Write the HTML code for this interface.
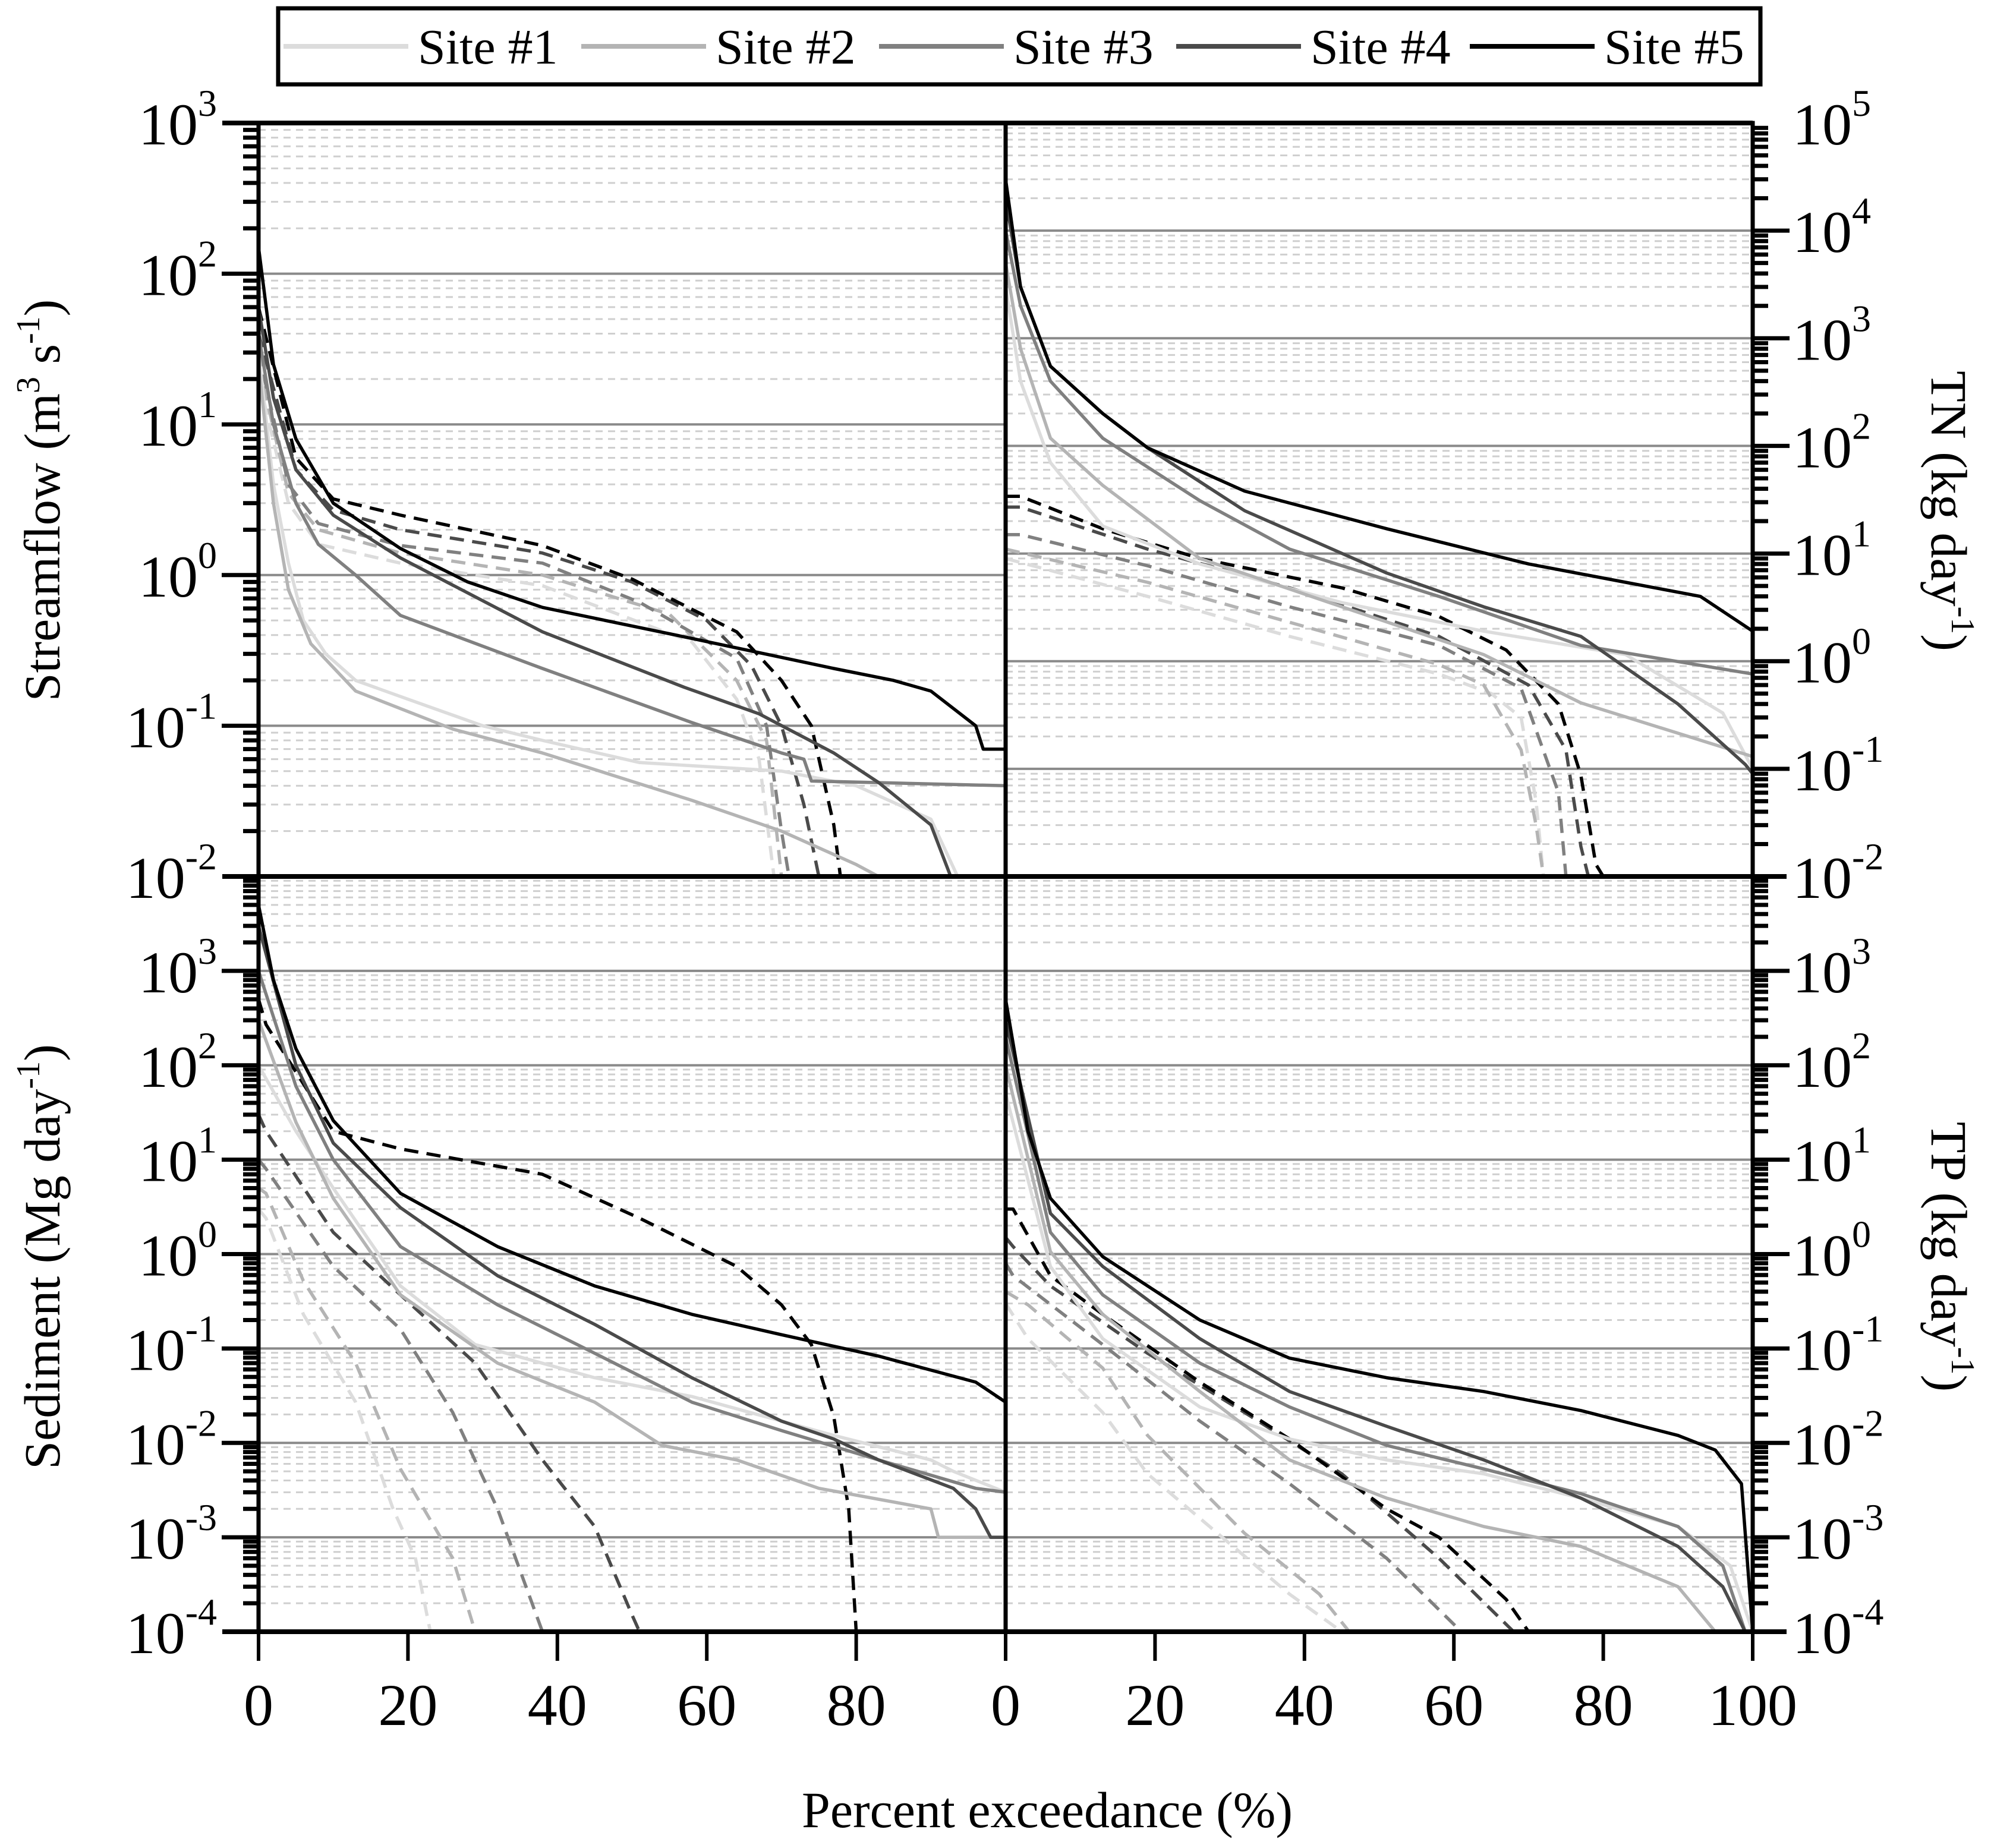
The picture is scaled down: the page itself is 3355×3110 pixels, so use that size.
<!DOCTYPE html>
<html><head><meta charset="utf-8"><style>
html,body{margin:0;padding:0;background:#fff;}
svg{display:block;font-family:"Liberation Serif",serif;}
</style></head><body>
<svg id="chart" width="3355" height="3110" viewBox="0 0 3355 3110" xmlns="http://www.w3.org/2000/svg">
<g id="legend">
<rect x="468" y="14" width="2494" height="128" fill="#fff" stroke="#000" stroke-width="7"/>
</g>
<g id="grid"></g><g id="series"></g><g id="axes"></g><g id="labels"></g>
</svg>
<script>
// ---- categories / tick labels ----
const siteNames = ["Site #1","Site #2","Site #3","Site #4","Site #5"];
const xTickLabels = [0,20,40,60,80,100];
// ---- Streamflow (m3/s) : [percent, value] ----
const flowObs1 = [[0,30],[2,4],[4,1.2],[6,0.5],[9,0.3],[13,0.2],[20,0.15],[30,0.1],[38,0.08],[51,0.057],[70,0.05],[80,0.04],[90,0.024],[94,0.009]];
const flowObs2 = [[0,25],[2,3],[4,0.8],[7,0.35],[13,0.17],[26,0.095],[38,0.066],[58,0.032],[70,0.02],[80,0.012],[83,0.01]];
const flowObs3 = [[0,40],[2,10],[5,3],[8,1.6],[13,1.0],[19,0.54],[38,0.24],[58,0.105],[70,0.066],[73,0.06],[74,0.043],[100,0.04]];
const flowObs4 = [[0,60],[2,15],[5,5],[10,2.5],[19,1.3],[38,0.42],[57,0.18],[67,0.12],[77,0.066],[83,0.042],[90,0.022],[93,0.009]];
const flowObs5 = [[0,150],[2,25],[5,8],[10,3],[19,1.5],[28,0.9],[38,0.61],[58,0.38],[77,0.24],[85,0.2],[90,0.17],[96,0.1],[97,0.07],[100,0.07]];
const flowSim1 = [[0,20],[4,3],[8,1.6],[19,1.2],[38,0.85],[58,0.36],[64,0.15],[67,0.06],[69,0.01]];
const flowSim2 = [[0,25],[4,3.5],[8,2],[19,1.4],[38,1.0],[55,0.55],[64,0.2],[68,0.08],[70,0.01]];
const flowSim3 = [[0,30],[4,4],[8,2.2],[19,1.57],[38,1.2],[51,0.66],[64,0.28],[68,0.1],[70,0.02],[71,0.01]];
const flowSim4 = [[0,40],[5,5],[10,2.7],[19,2.0],[38,1.4],[50,0.9],[60,0.5],[66,0.25],[70,0.1],[73,0.03],[75,0.01]];
const flowSim5 = [[0,60],[5,6],[10,3.2],[19,2.5],[38,1.57],[50,0.94],[64,0.42],[70,0.2],[74,0.1],[77,0.022],[78,0.009]];
// ---- TN (kg/day) ----
const tnObs1 = [[0,3000],[2,400],[6,70],[13,18],[26,8],[45,3.5],[64,1.9],[83,1.15],[96,0.33],[100,0.1]];
const tnObs2 = [[0,5000],[2,800],[6,118],[13,43],[26,9],[45,3.2],[64,1.15],[77,0.41],[100,0.13]];
const tnObs3 = [[0,10000],[2,2000],[6,400],[13,118],[26,31],[38,11],[58,4],[77,1.4],[100,0.76]];
const tnObs4 = [[0,20000],[2,3000],[6,550],[13,200],[19,96],[32,25],[51,6.6],[64,3.2],[77,1.7],[90,0.4],[99,0.11],[100,0.09]];
const tnObs5 = [[0,30000],[2,3000],[6,550],[13,200],[19,96],[32,38],[51,17],[70,8],[83,5.4],[93,4],[100,1.9]];
const tnSim1 = [[0,9],[19,4],[38,1.7],[58,0.76],[65,0.5],[69,0.3],[71,0.05],[72,0.01]];
const tnSim2 = [[0,11],[19,5.4],[38,2.3],[58,0.93],[64,0.6],[69,0.15],[71,0.03],[72,0.01]];
const tnSim3 = [[0,15],[2,15],[19,7.7],[38,3.2],[58,1.4],[69,0.56],[74,0.06],[75,0.01]];
const tnSim4 = [[0,27],[2,27],[19,11],[38,4.8],[58,1.7],[70,0.6],[75,0.15],[77,0.019],[78,0.01]];
const tnSim5 = [[0,34],[2,34],[13,17],[26,9],[45,4.8],[58,2.6],[67,1.27],[74,0.4],[77,0.087],[79,0.013],[80,0.01]];
// ---- Sediment (Mg/day) ----
const sedObs1 = [[0,100],[5,20],[10,5],[19,0.46],[29,0.11],[45,0.049],[58,0.031],[77,0.012],[90,0.0066],[93,0.005],[100,0.003]];
const sedObs2 = [[0,300],[5,25],[10,3.9],[19,0.37],[32,0.07],[45,0.027],[54,0.0094],[64,0.0066],[75,0.0033],[90,0.002],[91,0.001],[100,0.001]];
const sedObs3 = [[0,1000],[5,60],[10,10],[19,1.2],[32,0.29],[45,0.089],[58,0.027],[70,0.0135],[83,0.0066],[96,0.0033],[100,0.003]];
const sedObs4 = [[0,3000],[5,100],[10,15],[19,3.1],[32,0.59],[45,0.18],[58,0.049],[70,0.017],[77,0.011],[83,0.0066],[93,0.0033],[96,0.002],[98,0.001],[100,0.001]];
const sedObs5 = [[0,5000],[2,800],[5,150],[10,26],[19,4.4],[32,1.2],[45,0.46],[58,0.23],[70,0.14],[83,0.083],[96,0.044],[100,0.027]];
const sedSim1 = [[0,3],[1,2.4],[6,0.23],[13,0.027],[18,0.002],[21,0.0006],[23,0.0001]];
const sedSim2 = [[0,5],[1,4.4],[6,0.52],[13,0.07],[19,0.0053],[26,0.0006],[29,0.0001]];
const sedSim3 = [[0,10],[1,8],[10,0.74],[19,0.16],[26,0.021],[32,0.002],[38,0.0001]];
const sedSim4 = [[0,30],[1,20],[10,1.7],[19,0.37],[29,0.07],[38,0.0066],[45,0.0013],[50,0.00015],[51,0.0001]];
const sedSim5 = [[0,500],[1,270],[10,20],[19,13],[38,7],[51,2.4],[64,0.74],[70,0.29],[74,0.11],[77,0.019],[79,0.002],[80,0.0001]];
// ---- TP (kg/day) ----
const tpObs1 = [[0,50],[6,0.74],[13,0.127],[26,0.024],[38,0.011],[51,0.0066],[64,0.0047],[77,0.0026],[90,0.0013],[97,0.0005],[100,0.0001]];
const tpObs2 = [[0,100],[6,1.06],[13,0.23],[26,0.035],[38,0.0066],[51,0.0026],[64,0.0013],[77,0.0008],[90,0.0003],[95,0.0001]];
const tpObs3 = [[0,200],[6,1.7],[13,0.37],[26,0.07],[38,0.024],[51,0.0094],[64,0.0053],[77,0.0029],[90,0.0013],[96,0.0005],[99,0.0001]];
const tpObs4 = [[0,300],[6,2.7],[13,0.74],[26,0.127],[38,0.035],[51,0.015],[64,0.0066],[77,0.0026],[90,0.0008],[96,0.0003],[99,0.0001]];
const tpObs5 = [[0,500],[3,20],[6,3.9],[13,0.94],[26,0.2],[38,0.079],[51,0.049],[64,0.035],[77,0.022],[90,0.012],[95,0.0084],[98.5,0.0037],[100,0.0001]];
const tpSim1 = [[0,0.3],[3,0.127],[13,0.021],[19,0.0047],[29,0.001],[38,0.00025],[45,0.0001]];
const tpSim2 = [[0,0.4],[3,0.29],[13,0.062],[19,0.012],[32,0.0011],[42,0.00025],[46,0.0001]];
const tpSim3 = [[0,0.8],[1,0.59],[13,0.11],[26,0.017],[38,0.0037],[51,0.0006],[61,0.0001]];
const tpSim4 = [[0,1.5],[1,1.2],[6,0.46],[19,0.089],[32,0.021],[45,0.0047],[58,0.0006],[68,0.0001]];
const tpSim5 = [[0,3],[1,3],[6,0.59],[13,0.23],[26,0.044],[38,0.011],[51,0.002],[58,0.001],[67,0.00022],[70,0.0001]];

const NS="http://www.w3.org/2000/svg";
const colors=["#dcdcdc","#b4b4b4","#808080","#4a4a4a","#000000"];
function mk(tag,attrs,parent){const e=document.createElementNS(NS,tag);for(const k in attrs)e.setAttribute(k,attrs[k]);parent.appendChild(e);return e;}
const gGrid=document.getElementById('grid'),gSer=document.getElementById('series'),gAx=document.getElementById('axes'),gLab=document.getElementById('labels'),gLeg=document.getElementById('legend');
const svg=document.getElementById('chart');
const defs=mk('defs',{},svg);

const panels=[
 {id:'streamflow',x0:435,x1:1692,y0:207,y1:1475,hi:3,lo:-2,side:'left',obs:[flowObs1,flowObs2,flowObs3,flowObs4,flowObs5],sim:[flowSim1,flowSim2,flowSim3,flowSim4,flowSim5],labHi:3,labLo:-2},
 {id:'tn',x0:1692,x1:2949,y0:207,y1:1475,hi:5,lo:-2,side:'right',obs:[tnObs1,tnObs2,tnObs3,tnObs4,tnObs5],sim:[tnSim1,tnSim2,tnSim3,tnSim4,tnSim5],labHi:5,labLo:-2},
 {id:'sediment',x0:435,x1:1692,y0:1475,y1:2746,hi:4,lo:-4,side:'left',obs:[sedObs1,sedObs2,sedObs3,sedObs4,sedObs5],sim:[sedSim1,sedSim2,sedSim3,sedSim4,sedSim5],labHi:3,labLo:-4},
 {id:'tp',x0:1692,x1:2949,y0:1475,y1:2746,hi:4,lo:-4,side:'right',obs:[tpObs1,tpObs2,tpObs3,tpObs4,tpObs5],sim:[tpSim1,tpSim2,tpSim3,tpSim4,tpSim5],labHi:3,labLo:-4}
];

panels.forEach(p=>{
 const xs=v=>p.x0+v/100*(p.x1-p.x0);
 const ys=v=>p.y0+(p.hi-Math.log10(v))*(p.y1-p.y0)/(p.hi-p.lo);
 const cp=mk('clipPath',{id:'clip-'+p.id},defs);
 mk('rect',{x:p.x0,y:p.y0,width:p.x1-p.x0,height:p.y1-p.y0},cp);
 for(let d=p.lo;d<p.hi;d++){
  for(let m=1;m<=9;m++){
   const v=m*Math.pow(10,d);const y=ys(v);
   if(m===1){ if(d===p.lo) continue;
    const l=mk('line',{x1:p.x0,x2:p.x1,y1:y,y2:y,stroke:'#8a8a8a','stroke-width':4},gGrid);
    
    
   } else {
    const l=mk('line',{x1:p.x0,x2:p.x1,y1:y,y2:y,stroke:'#cfcfcf','stroke-width':3,'stroke-dasharray':'12 9'},gGrid);
    
    
   }
   const ax=p.side==='left'?p.x0:p.x1, dir=p.side==='left'?-1:1;
   const len=m===1?62:26;
   const t=mk('line',{x1:ax,x2:ax+dir*len,y1:y,y2:y,stroke:'#000','stroke-width':7},gAx);
   
   
  }
 }
 for(let d=p.labLo;d<=p.labHi;d++){
  const y=ys(Math.pow(10,d));
  const tx=p.side==='left'?mk('text',{x:365,y:y+36,'text-anchor':'end','font-size':100},gLab):mk('text',{x:3016,y:y+36,'text-anchor':'start','font-size':100},gLab);
  tx.textContent='10';
  const sp=mk('tspan',{dy:-48,'font-size':64},tx);sp.textContent=String(d);
  
  
 }
 const g=mk('g',{'clip-path':'url(#clip-'+p.id+')'},gSer);
 const draw=(arr,i,dashed)=>{
  const d=arr.map((pt,k)=>(k?'L':'M')+xs(pt[0]).toFixed(1)+' '+ys(pt[1]).toFixed(1)).join(' ');
  const path=mk('path',{d:d,fill:'none',stroke:colors[i],'stroke-width':5.5,'stroke-linejoin':'round'},g);
  if(dashed) path.setAttribute('stroke-dasharray','24 14');
  
  
 };
 p.sim.forEach((a,i)=>draw(a,i,true));
 p.obs.forEach((a,i)=>draw(a,i,false));
 const fr=mk('rect',{x:p.x0,y:p.y0,width:p.x1-p.x0,height:p.y1-p.y0,fill:'none',stroke:'#000','stroke-width':7},gAx);
 
 
 if(p.y1===2746){
  xTickLabels.forEach(v=>{
   if(v===100 && p.side==='left') return;
   const x=xs(v);
   const t=mk('line',{x1:x,x2:x,y1:p.y1,y2:2795,stroke:'#000','stroke-width':6},gAx);
   
   
   const tx=mk('text',{x:x,y:2903,'text-anchor':'middle','font-size':100},gLab);
   tx.textContent=String(v);
   
   
  });
 }
});
[[374,207,2949,207],[374,1475,3006,1475],[374,2746,3006,2746]].forEach(c=>{
 const l=mk('line',{x1:c[0],y1:c[1],x2:c[2],y2:c[3],stroke:'#000','stroke-width':8},gAx);
 
 
});

const legX=[477,978,1479,1979,2473];
siteNames.forEach((n,i)=>{
 const l=mk('line',{x1:legX[i],x2:legX[i]+210,y1:78,y2:78,stroke:colors[i],'stroke-width':8},gLeg);
 
 
 const t=mk('text',{x:legX[i]+226,y:107,'font-size':84},gLeg);
 t.textContent=n;
 
 
});

function title(txt,x,y,rot,name,parts){
 const t=mk('text',{x:0,y:0,'text-anchor':'middle','font-size':86,transform:'translate('+x+','+y+') rotate('+rot+')'},gLab);
 parts.forEach(pt=>{const s=mk('tspan',pt[1]?{dy:pt[1],'font-size':pt[2]}:{},t);s.textContent=pt[0];});
 
 
}
title('',100,842,-90,'streamflow-axis-title',[['Streamflow (m'],['3',-34,56],[' s',34,86],['-1',-34,56],[')',34,86]]);
title('',100,2115,-90,'sediment-axis-title',[['Sediment (Mg day'],['-1',-34,56],[')',34,86]]);
title('',3250,860,90,'tn-axis-title',[['TN (kg day'],['-1',-34,56],[')',34,86]]);
title('',3250,2115,90,'tp-axis-title',[['TP (kg day'],['-1',-34,56],[')',34,86]]);
title('',1762,3075,0,'x-axis-title',[['Percent exceedance (%)']]);
</script>
</body></html>
